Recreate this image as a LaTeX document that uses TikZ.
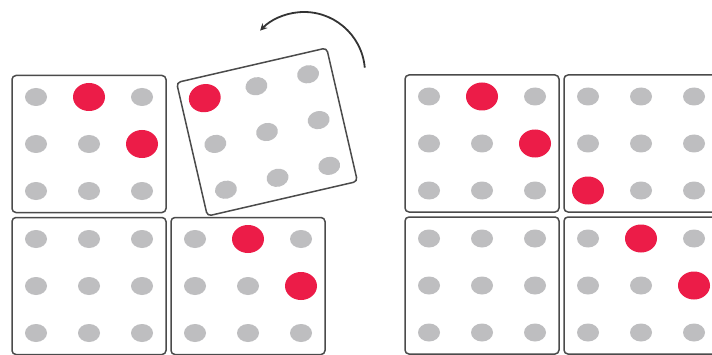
\documentclass[tikz,border=0pt]{standalone}
\usetikzlibrary{positioning}
\usetikzlibrary{calc}
\usetikzlibrary{arrows.meta}

\definecolor{dotgray}{RGB}{190,190,192}
\definecolor{dotred}{RGB}{236,28,72}
\definecolor{edgegray}{RGB}{75,75,75}

% nine gray dots round the centre of a tile
\newcommand{\graydots}[1]{%
    \foreach \i in {-1,0,1}{\foreach \j in {-1,0,1}{
        \fill[dotgray] ($(#1)+(53*\i,47*\j)$) ellipse (11 and 9);
    }}}
\newcommand{\reddot}[3]{\fill[dotred] ($(#1)+(53*#2,47*#3)$) ellipse (16 and 14);}

\begin{document}
\begin{tikzpicture}[x=1pt, y=1pt,
    tile/.style={draw=edgegray, line width=1.5pt, rounded corners=4pt, fill=white,
        minimum width=154pt, minimum height=137pt, inner sep=0pt, outer sep=0pt},
    turnarrow/.style={draw=black!80, line width=1.8pt, -{Stealth[length=7pt,width=7pt]}}]

    \path[use as bounding box] (0,0) rectangle (712,354);
    \clip (0,0) rectangle (712,354);

    % left: one tile turned out of place
    \node [tile] (a1) at (89,210) {};
    \node [tile, below=5pt of a1] (a2) {};
    \node [tile, right=5pt of a2] (a3) {};
    \node [tile, rotate=13] (turn) at (267,222) {};

    \graydots{a1}
    \reddot{a1}{0}{1}
    \reddot{a1}{1}{0}
    \graydots{a2}
    \graydots{a3}
    \reddot{a3}{0}{1}
    \reddot{a3}{1}{0}

    \begin{scope}[shift={(turn.center)}, rotate=13]
        \foreach \i in {-1,0,1}{\foreach \j in {-1,0,1}{
            \fill[dotgray] (53*\i,47*\j) ellipse (11 and 9);
        }}
        \fill[dotred] (-53,47) ellipse (16 and 14);
    \end{scope}

    \coordinate (pivot) at (304,281);
    \draw [turnarrow] ([shift={(5:61)}]pivot) arc [start angle=5, end angle=136, radius=61];

    % right: all four tiles in place
    \node [tile] (b1) at (482,210.5) {};
    \node [tile, right=5pt of b1] (b2) {};
    \node [tile, below=5pt of b1] (b3) {};
    \node [tile, right=5pt of b3] (b4) {};

    \graydots{b1}
    \reddot{b1}{0}{1}
    \reddot{b1}{1}{0}
    \graydots{b2}
    \reddot{b2}{-1}{-1}
    \graydots{b3}
    \graydots{b4}
    \reddot{b4}{0}{1}
    \reddot{b4}{1}{0}

\end{tikzpicture}
\end{document}
